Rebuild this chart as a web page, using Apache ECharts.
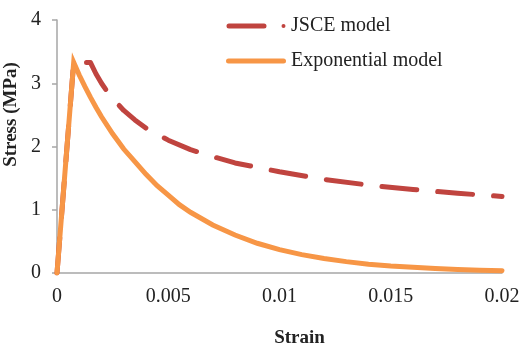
<!DOCTYPE html>
<html>
<head>
<meta charset="utf-8">
<script src="https://cdn.jsdelivr.net/npm/echarts@6/dist/echarts.min.js"></script>
<style>
  html, body { margin: 0; padding: 0; background: #fff; }
  #chart { width: 519px; height: 346px; }
</style>
</head>
<body>
<div id="chart"></div>
<script>
// Tension stress–strain curves of concrete: JSCE softening vs. exponential softening
const seriesNames = ['JSCE model', 'Exponential model'];

const jsceStrain = [0, 0.00075, 0.0015, 0.00175, 0.002, 0.00225, 0.0025, 0.003, 0.0035, 0.004, 0.005,
  0.006, 0.007, 0.008, 0.009, 0.010, 0.012, 0.014, 0.016, 0.018, 0.020];
const jsceStress = [0, 3.33, 3.33, 3.15, 3.00, 2.87, 2.76, 2.57, 2.42, 2.29, 2.10,
  1.95, 1.84, 1.74, 1.67, 1.60, 1.48, 1.39, 1.32, 1.26, 1.21];

const expStrain = [0, 0.00075, 0.001, 0.00125, 0.0015, 0.00175, 0.002, 0.0025, 0.003, 0.0035, 0.004, 0.0045, 0.005,
  0.0055, 0.006, 0.007, 0.008, 0.009, 0.010, 0.011, 0.012, 0.013, 0.014, 0.015,
  0.016, 0.017, 0.018, 0.019, 0.020];
const expStress = [0, 3.33, 3.13, 2.95, 2.78, 2.62, 2.47, 2.20, 1.96, 1.76, 1.56, 1.38, 1.23,
  1.08, 0.96, 0.76, 0.60, 0.47, 0.37, 0.29, 0.23, 0.18, 0.14, 0.11,
  0.09, 0.07, 0.055, 0.045, 0.035];

const xTicks = [0, 0.005, 0.01, 0.015, 0.02];
const yTicks = [0, 1, 2, 3, 4];

const pair = (xs, ys) => xs.map((x, i) => [x, ys[i]]);

const RED = '#c0443f';
const ORANGE = '#f79646';
const FONT = '"Liberation Serif", "Times New Roman", serif';

const chart = echarts.init(document.getElementById('chart'), null, { renderer: 'canvas' });

chart.setOption({
  animation: false,
  backgroundColor: '#ffffff',
  color: [RED, ORANGE],
  grid: { left: 57, right: 17, top: 20, bottom: 73, containLabel: false, outerBoundsMode: 'none' },
  legend: {
    orient: 'vertical',
    left: 221,
    top: 11,
    itemWidth: 60,
    itemHeight: 5,
    itemGap: 15,
    textStyle: { fontFamily: FONT, fontSize: 20, color: '#222' },
    itemStyle: { borderWidth: 0 },
    data: [
      { name: seriesNames[0], icon: 'path://M2.5,0H37.5A2.5,2.5,0,0,1,37.5,5H2.5A2.5,2.5,0,0,1,2.5,0Z M57,0.5A2,2,0,1,1,57,4.5A2,2,0,1,1,57,0.5Z' },
      { name: seriesNames[1], icon: 'path://M2.5,0H57.5A2.5,2.5,0,0,1,57.5,5H2.5A2.5,2.5,0,0,1,2.5,0Z' }
    ]
  },
  xAxis: {
    type: 'value',
    min: xTicks[0],
    max: xTicks[xTicks.length - 1],
    interval: 0.005,
    name: 'Strain',
    nameLocation: 'middle',
    nameGap: 56,
    nameTextStyle: { fontFamily: FONT, fontSize: 19, fontWeight: 'bold', color: '#222', padding: [0, 0, 0, 40] },
    axisLine: { lineStyle: { color: '#a6a6a6', width: 1.5 } },
    axisTick: { show: false },
    splitLine: { show: false },
    axisLabel: { fontFamily: FONT, fontSize: 20, color: '#222', margin: 14 }
  },
  yAxis: {
    type: 'value',
    min: yTicks[0],
    max: yTicks[yTicks.length - 1],
    interval: 1,
    name: 'Stress (MPa)',
    nameLocation: 'middle',
    nameGap: 28,
    nameTextStyle: { fontFamily: FONT, fontSize: 19, fontWeight: 'bold', color: '#222', padding: [0, 0, 0, 64] },
    axisLine: { show: true, lineStyle: { color: '#a6a6a6', width: 1.5 } },
    axisTick: { show: true, length: 5, lineStyle: { color: '#a6a6a6', width: 1.5 } },
    splitLine: { show: false },
    axisLabel: { fontFamily: FONT, fontSize: 20, color: '#222', margin: 16 }
  },
  series: [
    {
      name: seriesNames[0],
      type: 'line',
      data: pair(jsceStrain, jsceStress),
      showSymbol: false,
      symbol: 'none',
      lineStyle: { color: RED, width: 5, type: [35, 21], dashOffset: 55.9, cap: 'round', join: 'round' }
    },
    {
      name: seriesNames[1],
      type: 'line',
      data: pair(expStrain, expStress),
      showSymbol: false,
      symbol: 'none',
      lineStyle: { color: ORANGE, width: 5, cap: 'round', join: 'miter' }
    }
  ]
});
</script>
</body>
</html>
